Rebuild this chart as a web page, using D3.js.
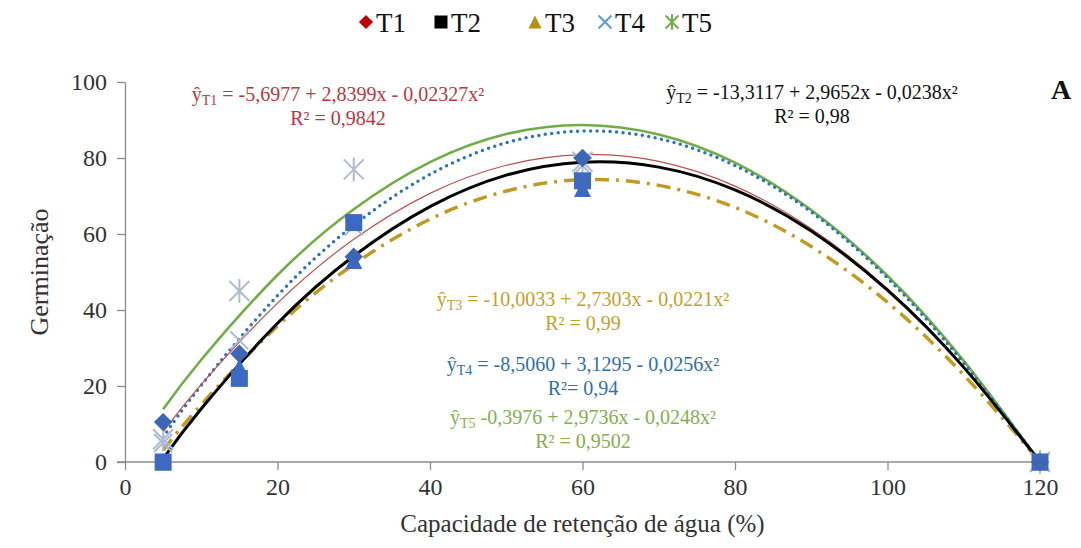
<!DOCTYPE html>
<html>
<head>
<meta charset="utf-8">
<script src="https://cdn.jsdelivr.net/npm/d3@7"></script>
<style>
   body { margin: 0; background: #fff; }
   text { font-family: "Liberation Serif", "Times New Roman", Tinos, "DejaVu Serif", "Noto Serif", serif; }
</style>
</head>
<body>
<svg></svg>
<script>
var width = 1081;
var height = 548;

// values
var series = ['T1', 'T2', 'T3', 'T4', 'T5'];

var obsX = [5, 15, 30, 60, 120];
var obsT1 = [10.5, 28.5, 54, 80, 0];
var obsT2 = [0, 22, 63, 74, 0];
var obsT3 = [0, 25, 53, 72, 0];
var obsT4 = [5, 32, 62, 78, 0];
var obsT5 = [6, 45, 77, 79, 0];

// fitted curves, read at these x positions
var fitX = [5, 10, 20, 30, 40, 50, 60, 70, 80, 90, 100, 110, 120];
var fitT1 = [7.9, 20.4, 41.8, 58.6, 70.7, 78.1, 80.9, 79.1, 72.6, 61.4, 45.6, 25.1, 0];
var fitT2 = [0.9, 14.0, 36.5, 54.2, 67.2, 75.5, 78.9, 77.6, 71.6, 60.8, 45.2, 24.9, 0];
var fitT3 = [3.1, 15.1, 35.8, 52.0, 63.9, 71.3, 74.3, 72.8, 67.0, 56.7, 42.0, 22.9, 0];
var fitT4 = [6.5, 20.2, 43.8, 62.3, 75.7, 84.0, 87.1, 85.1, 78.0, 65.8, 48.4, 26.0, 0];
var fitT5 = [13.9, 26.9, 49.2, 66.5, 78.9, 86.3, 88.7, 86.2, 78.8, 66.3, 49.0, 26.6, 0];

var xTicks = [0, 20, 40, 60, 80, 100, 120];
var yTicks = [0, 20, 40, 60, 80, 100];

var equations = [
   { sub: 'T1', eq: ' = -5,6977 + 2,8399x - 0,02327x²', r2: 'R² = 0,9842', color: '#b8383f', x: 338, y: 101 },
   { sub: 'T2', eq: ' = -13,3117 + 2,9652x - 0,0238x²', r2: 'R² = 0,98', color: '#111', x: 812, y: 99 },
   { sub: 'T3', eq: ' = -10,0033 + 2,7303x - 0,0221x²', r2: 'R² = 0,99', color: '#c4a02c', x: 583, y: 306 },
   { sub: 'T4', eq: ' = -8,5060 + 3,1295 - 0,0256x²', r2: 'R²= 0,94', color: '#2f6fae', x: 583, y: 371 },
   { sub: 'T5', eq: ' -0,3976 + 2,9736x - 0,0248x²', r2: 'R² = 0,9502', color: '#86ad4e', x: 583, y: 424 }
];

var obs = [obsT1, obsT2, obsT3, obsT4, obsT5];
var fits = [fitT1, fitT2, fitT3, fitT4, fitT5];

var svg = d3.select('svg')
   .attr('width', width)
   .attr('height', height)
;

var x = d3.scaleLinear().domain([0, 120]).range([125, 1040]);
var y = d3.scaleLinear().domain([0, 100]).range([462, 82]);

// axes
var xAxis = svg.append('g')
   .attr('transform', 'translate(0,' + y(0) + ')')
   .call(d3.axisBottom(x).tickValues(xTicks).tickSize(8).tickSizeOuter(0).tickPadding(8));

var yAxis = svg.append('g')
   .attr('transform', 'translate(' + x(0) + ',0)')
   .call(d3.axisLeft(y).tickValues(yTicks).tickSize(8).tickSizeOuter(0).tickPadding(10));

[xAxis, yAxis].forEach(function(a) {
   a.attr('font-family', null);
   a.selectAll('path, line').attr('stroke', '#8c8c8c').attr('stroke-width', 1.3);
   a.selectAll('text')
      .style('font-size', '24px')
      .attr('fill', '#333');
});
xAxis.select('.domain').attr('d', 'M' + (x(0) - 8) + ',0H' + x(120));

svg.append('text')
   .attr('x', x(60))
   .attr('y', 532)
   .attr('text-anchor', 'middle')
   .style('font-size', '25px')
   .attr('fill', '#333')
   .text('Capacidade de retenção de água (%)');

svg.append('text')
   .attr('transform', 'translate(48,' + y(50) + ') rotate(-90)')
   .attr('text-anchor', 'middle')
   .style('font-size', '26px')
   .attr('fill', '#333')
   .text('Germinação');

// fitted curves
var curveStyles = [
   { color: '#c0504d', w: 1.2, dash: null, cap: 'butt' },
   { color: '#000', w: 3, dash: null, cap: 'butt' },
   { color: '#c29a22', w: 3.5, dash: '14,7,3,7', cap: 'butt' },
   { color: '#2e75b6', w: 3.5, dash: '0,6.5', cap: 'round' },
   { color: '#70ad47', w: 2.6, dash: null, cap: 'butt' }
];

var line = d3.line()
   .x(function(d) { return x(d[0]); })
   .y(function(d) { return y(d[1]); })
   .curve(d3.curveNatural);

var drawOrder = [4, 3, 2, 0, 1];

drawOrder.forEach(function(i) {
   var pts = fitX.map(function(v, j) { return [v, fits[i][j]]; });
   var s = curveStyles[i];
   svg.append('path')
      .attr('d', line(pts))
      .attr('fill', 'none')
      .attr('stroke', s.color)
      .attr('stroke-width', s.w)
      .attr('stroke-dasharray', s.dash)
      .attr('stroke-linecap', s.cap);
});

// markers
function marker(sel, kind, color, size) {
   var h = size / 2;
   if (kind == 'diamond') {
      sel.append('rect')
         .attr('x', -h).attr('y', -h)
         .attr('width', size).attr('height', size)
         .attr('transform', 'rotate(45)')
         .attr('fill', color);
   } else if (kind == 'square') {
      sel.append('rect')
         .attr('x', -h).attr('y', -h)
         .attr('width', size).attr('height', size)
         .attr('fill', color);
   } else if (kind == 'triangle') {
      sel.append('path')
         .attr('d', 'M0,' + (-h) + 'L' + h + ',' + h + 'L' + (-h) + ',' + h + 'Z')
         .attr('fill', color);
   } else if (kind == 'x') {
      sel.append('path')
         .attr('d', 'M' + -h + ',' + -h + 'L' + h + ',' + h + 'M' + h + ',' + -h + 'L' + -h + ',' + h)
         .attr('stroke', color).attr('stroke-width', 2).attr('fill', 'none');
   } else {
      sel.append('path')
         .attr('d', 'M' + -h + ',' + -h + 'L' + h + ',' + h + 'M' + h + ',' + -h + 'L' + -h + ',' + h + 'M0,' + (-h * 1.2) + 'V' + (h * 1.2))
         .attr('stroke', color).attr('stroke-width', 2).attr('fill', 'none');
   }
}

var kinds = ['diamond', 'square', 'triangle', 'x', 'star'];
var markColors = ['#3d66b5', '#3d6ac0', '#3d6ac0', '#a9b8da', '#b0bbd3'];
var markSizes = [13, 17, 17, 18, 20];

[4, 3, 2, 1, 0].forEach(function(i) {
   obsX.forEach(function(v, j) {
      var g = svg.append('g')
         .attr('transform', 'translate(' + x(v) + ',' + y(obs[i][j]) + ')');
      marker(g, kinds[i], markColors[i], markSizes[i]);
   });
});

// legend
var legendColors = ['#c00000', '#000', '#b8900f', '#5b9bd5', '#70ad47'];
var legendX = [366, 441, 535, 605, 672];

series.forEach(function(s, i) {
   var g = svg.append('g').attr('transform', 'translate(' + legendX[i] + ',22)');
   marker(g, kinds[i], legendColors[i], i == 0 ? 10 : 13);
   g.append('text')
      .attr('x', 10)
      .attr('y', 10)
      .style('font-size', '27px')
      .attr('fill', '#111')
      .text(s);
});

// equations
equations.forEach(function(e) {
   var t = svg.append('text')
      .attr('x', e.x)
      .attr('y', e.y)
      .attr('text-anchor', 'middle')
      .style('font-size', '20px')
      .attr('fill', e.color);
   t.append('tspan').text('ŷ');
   t.append('tspan').attr('dy', 4).style('font-size', '14px').text(e.sub);
   t.append('tspan').attr('dy', -4).text(e.eq);

   svg.append('text')
      .attr('x', e.x)
      .attr('y', e.y + 24)
      .attr('text-anchor', 'middle')
      .style('font-size', '20px')
      .attr('fill', e.color)
      .text(e.r2);
});

svg.append('text')
   .attr('x', 1061)
   .attr('y', 99)
   .attr('text-anchor', 'middle')
   .style('font-size', '28px')
   .style('font-weight', 'bold')
   .attr('fill', '#111')
   .text('A');
</script>
</body>
</html>
